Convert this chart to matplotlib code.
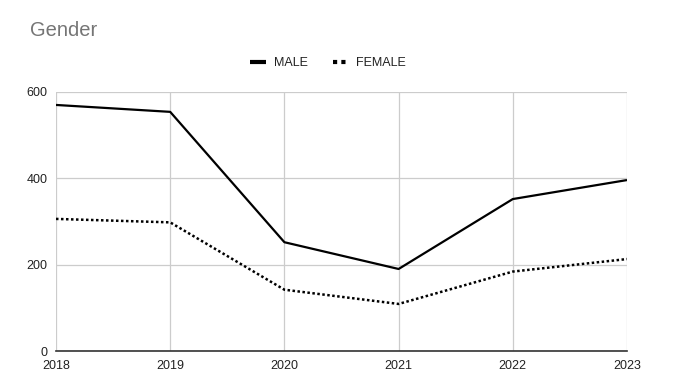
import matplotlib
matplotlib.use("Agg")
from matplotlib import pyplot as plt

plt.rcParams["font.family"] = ["Liberation Sans", "DejaVu Sans"]

years = [2018, 2019, 2020, 2021, 2022, 2023]
male = [570, 554, 252, 190, 352, 396]
female = [306, 298, 142, 109, 184, 213]
y_ticks = [0, 200, 400, 600]

fig = plt.figure(figsize=(6.73, 3.92), dpi=100)
ax = fig.add_axes((56 / 673, 41 / 392, 571 / 673, 259 / 392))

ax.plot(years, male, color="black", lw=1.6, label="MALE", solid_capstyle="butt")
ax.plot(years, female, color="black", lw=1.8, linestyle=(0, (1, 1)), label="FEMALE")

ax.set_xlim(years[0], years[-1])
ax.set_ylim(0, 600)
ax.set_xticks(years)
ax.set_yticks(y_ticks)
ax.grid(True, color="#cccccc", lw=0.9)
ax.set_axisbelow(True)

for side in ["top", "right", "left"]:
    ax.spines[side].set_visible(False)
ax.spines["bottom"].set_color("#333333")
ax.spines["bottom"].set_linewidth(1.2)
ax.spines["bottom"].set_zorder(5)

ax.tick_params(axis="both", length=0, labelsize=9, labelcolor="#222222")
ax.tick_params(axis="y", pad=6)
ax.tick_params(axis="x", pad=6.5)

fig.text(30 / 673, 1 - 31 / 392, "Gender", fontsize=14.5, color="#757575", va="center")

leg = fig.legend(
    loc="center",
    bbox_to_anchor=(328 / 673, 1 - 63 / 392),
    ncol=2,
    frameon=False,
    fontsize=9,
    handlelength=1.3,
    columnspacing=2.0,
    handletextpad=0.6,
)
for line in leg.get_lines():
    line.set_linewidth(3)
for t in leg.get_texts():
    t.set_color("#222222")

fig.savefig("out.png", dpi=100)
